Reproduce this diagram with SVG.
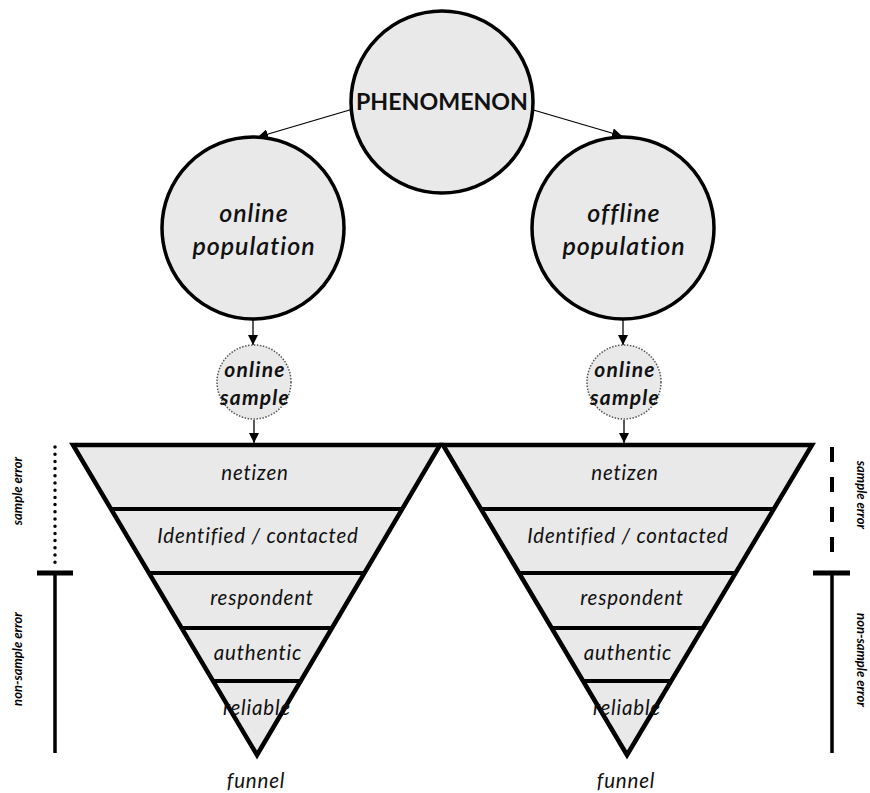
<svg xmlns="http://www.w3.org/2000/svg" width="870" height="793" viewBox="0 0 870 793">
<style>
.big{fill:#e9e9e9;stroke:#000;stroke-width:3.5}
.small{fill:#e9e9e9;stroke:#555;stroke-width:1.5;stroke-dasharray:1.5 1.5}
.fun{fill:#e9e9e9;stroke:#000;stroke-width:4.5;stroke-linejoin:miter}
.div{stroke:#000;stroke-width:4}
.conn{stroke:#000;stroke-width:1.3;fill:none}
text{font-family:Lato,"Liberation Sans",sans-serif;fill:#111;text-anchor:middle}
.pop{font-size:25px;font-style:italic;font-weight:600;letter-spacing:1px}
.smp{font-size:21px;font-style:italic;font-weight:bold;letter-spacing:1.2px}
.lvl{font-size:20.5px;font-style:italic;letter-spacing:0.8px}
.err{font-size:13px;font-style:italic;font-weight:bold;fill:#000}
.bar{stroke:#000;stroke-width:3.5;fill:none}
</style>
<defs>
<marker id="ah" viewBox="0 0 10 10" refX="10" refY="5" markerWidth="10" markerHeight="10" markerUnits="userSpaceOnUse" orient="auto">
<path d="M0,0 L10,5 L0,10 z" fill="#000"/>
</marker>
</defs>
<g id="connectors">
<line class="conn" x1="353" y1="109" x2="258" y2="137" marker-end="url(#ah)"/>
<line class="conn" x1="530" y1="109" x2="622" y2="136" marker-end="url(#ah)"/>
<line class="conn" x1="253" y1="320" x2="253" y2="345" marker-end="url(#ah)"/>
<line class="conn" x1="623" y1="320" x2="623" y2="345" marker-end="url(#ah)"/>
<line class="conn" x1="254" y1="420" x2="254" y2="443" marker-end="url(#ah)"/>
<line class="conn" x1="624" y1="420" x2="624" y2="443" marker-end="url(#ah)"/>
</g>
<g id="phenomenon">
<circle class="big" cx="442" cy="102" r="91"/>
<text x="442" y="110" style="font-size:23px;font-weight:bold" textLength="172" lengthAdjust="spacingAndGlyphs">PHENOMENON</text>
</g>
<g id="online-population">
<circle class="big" cx="253" cy="228" r="91"/>
<text class="pop" x="254" y="222">online</text>
<text class="pop" x="254" y="255">population</text>
</g>
<g id="offline-population">
<circle class="big" cx="623" cy="228" r="91"/>
<text class="pop" x="624" y="222">offline</text>
<text class="pop" x="624" y="255">population</text>
</g>
<g id="online-sample-left">
<circle class="small" cx="254" cy="382" r="37"/>
<text class="smp" x="255" y="377">online</text>
<text class="smp" x="255" y="405">sample</text>
</g>
<g id="online-sample-right">
<circle class="small" cx="624" cy="382" r="37"/>
<text class="smp" x="625" y="377">online</text>
<text class="smp" x="625" y="405">sample</text>
</g>
<g id="funnel-left">
<polygon class="fun" points="73,445 440,445 257,755"/>
<line class="div" x1="111" y1="509" x2="403" y2="509"/>
<line class="div" x1="149" y1="573" x2="365" y2="573"/>
<line class="div" x1="181" y1="628" x2="333" y2="628"/>
<line class="div" x1="213" y1="681" x2="301" y2="681"/>
<text class="lvl" x="255" y="480">netizen</text>
<text class="lvl" x="258" y="543">Identified / contacted</text>
<text class="lvl" x="262" y="605">respondent</text>
<text class="lvl" x="258" y="660">authentic</text>
<text class="lvl" x="257" y="715">reliable</text>
<text class="lvl" x="256" y="788">funnel</text>
</g>
<g id="funnel-right">
<polygon class="fun" points="443,445 812,445 627,755"/>
<line class="div" x1="481" y1="509" x2="774" y2="509"/>
<line class="div" x1="519" y1="573" x2="736" y2="573"/>
<line class="div" x1="551" y1="628" x2="703" y2="628"/>
<line class="div" x1="583" y1="681" x2="671" y2="681"/>
<text class="lvl" x="625" y="480">netizen</text>
<text class="lvl" x="628" y="543">Identified / contacted</text>
<text class="lvl" x="632" y="605">respondent</text>
<text class="lvl" x="628" y="660">authentic</text>
<text class="lvl" x="627" y="715">reliable</text>
<text class="lvl" x="626" y="788">funnel</text>
</g>
<g id="error-left">
<line x1="55" y1="447" x2="55" y2="566" stroke="#000" stroke-width="3.5" stroke-linecap="round" stroke-dasharray="0 7.2"/>
<line class="bar" x1="37" y1="573" x2="73" y2="573" style="stroke-width:5"/>
<line class="bar" x1="55" y1="573" x2="55" y2="753"/>
<text class="err" transform="translate(22,491) rotate(-90)">sample error</text>
<text class="err" transform="translate(22,659) rotate(-90)">non-sample error</text>
</g>
<g id="error-right">
<line x1="832" y1="447" x2="832" y2="566" stroke="#000" stroke-width="4" stroke-dasharray="15 15"/>
<line class="bar" x1="813" y1="573" x2="850" y2="573" style="stroke-width:5"/>
<line class="bar" x1="832" y1="573" x2="832" y2="753"/>
<text class="err" transform="translate(857,495) rotate(90)">sample error</text>
<text class="err" transform="translate(857,660) rotate(90)">non-sample error</text>
</g>
</svg>
